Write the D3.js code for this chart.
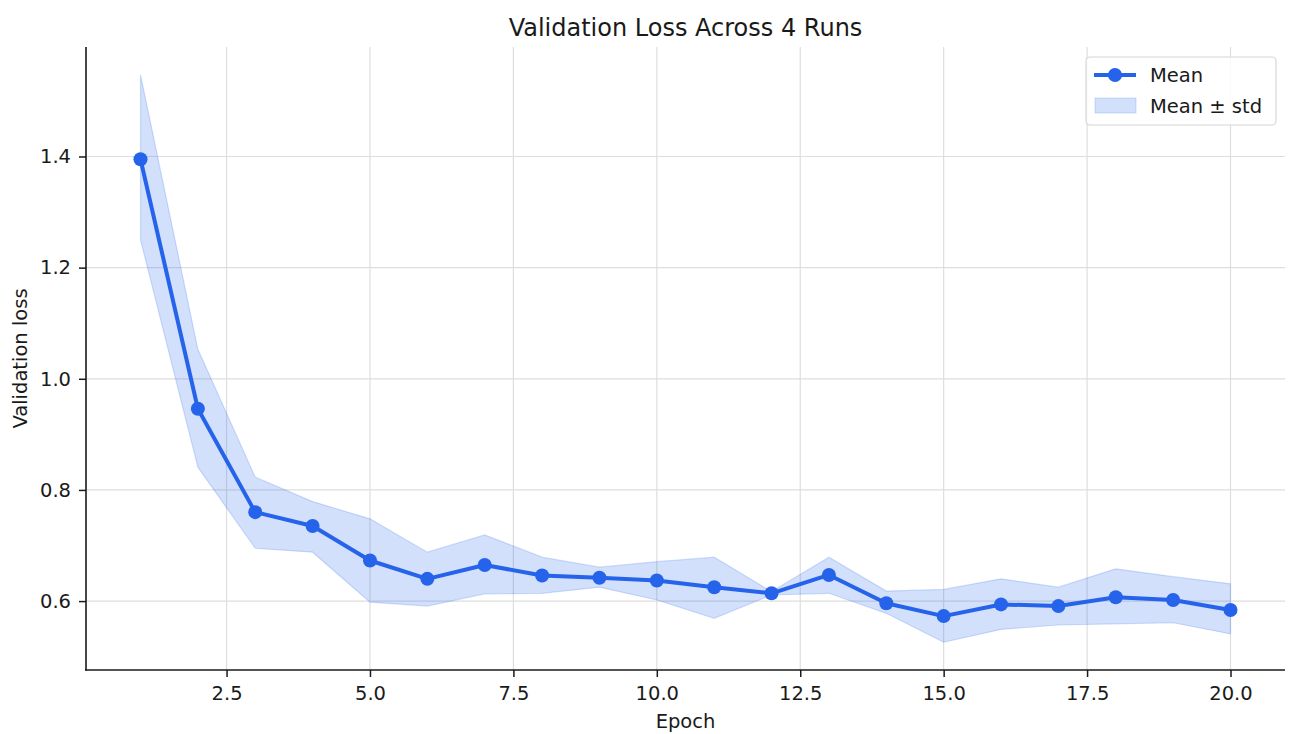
<!DOCTYPE html>
<html>
<head>
<meta charset="utf-8">
<script src="https://cdn.jsdelivr.net/npm/d3@7"></script>
<style>
  body { margin: 0; background: #fff; }
  svg { font-family: "DejaVu Sans", sans-serif; }
</style>
</head>
<body>
<svg id="chart" width="1293" height="734"></svg>
<script>
// chart data
var epochs = [1, 2, 3, 4, 5, 6, 7, 8, 9, 10, 11, 12, 13, 14, 15, 16, 17, 18, 19, 20];
var meanLoss = [1.395, 0.946, 0.760, 0.735, 0.673, 0.640, 0.665, 0.646, 0.642, 0.637,
                0.625, 0.614, 0.647, 0.596, 0.573, 0.594, 0.591, 0.607, 0.602, 0.584];
var upperLoss = [1.547, 1.053, 0.823, 0.779, 0.748, 0.688, 0.719, 0.679, 0.661, 0.671,
                 0.679, 0.617, 0.679, 0.618, 0.621, 0.640, 0.625, 0.658, 0.644, 0.631];
var lowerLoss = [1.250, 0.841, 0.695, 0.688, 0.598, 0.591, 0.613, 0.614, 0.625, 0.602,
                 0.569, 0.611, 0.614, 0.578, 0.526, 0.549, 0.557, 0.559, 0.561, 0.541];
var xTicks = [2.5, 5.0, 7.5, 10.0, 12.5, 15.0, 17.5, 20.0];
var yTicks = [0.6, 0.8, 1.0, 1.2, 1.4];

var BLUE = '#2563eb';
var INK = '#1a1a1a';
var FONT = 19.5;
var margin = {left: 86, right: 8, top: 47, bottom: 64};
var width = 1293, height = 734;

var svg = d3.select('#chart');

var x = d3.scaleLinear()
    .domain([0.05, 20.95])
    .range([margin.left, width - margin.right]);
var y = d3.scaleLinear()
    .domain([0.476, 1.597])
    .range([height - margin.bottom, margin.top]);

// grid
var grid = svg.append('g').attr('stroke', '#dedede').attr('stroke-width', 1.2);
grid.selectAll('.vgrid').data(xTicks).enter().append('line')
    .attr('x1', function(d) { return x(d); })
    .attr('x2', function(d) { return x(d); })
    .attr('y1', margin.top)
    .attr('y2', height - margin.bottom);
grid.selectAll('.hgrid').data(yTicks).enter().append('line')
    .attr('x1', margin.left)
    .attr('x2', width - margin.right)
    .attr('y1', function(d) { return y(d); })
    .attr('y2', function(d) { return y(d); });

// std band
var rows = epochs.map(function(e, i) {
  return {epoch: e, mean: meanLoss[i], lo: lowerLoss[i], hi: upperLoss[i]};
});
var band = d3.area()
    .x(function(d) { return x(d.epoch); })
    .y0(function(d) { return y(d.lo); })
    .y1(function(d) { return y(d.hi); });
svg.append('path')
    .datum(rows)
    .attr('d', band)
    .attr('fill', BLUE)
    .attr('fill-opacity', 0.2)
    .attr('stroke', BLUE)
    .attr('stroke-opacity', 0.2)
    .attr('stroke-width', 1.2);

// mean line + markers
var line = d3.line()
    .x(function(d) { return x(d.epoch); })
    .y(function(d) { return y(d.mean); });
svg.append('path')
    .datum(rows)
    .attr('d', line)
    .attr('fill', 'none')
    .attr('stroke', BLUE)
    .attr('stroke-width', 4)
    .attr('stroke-linejoin', 'round');
svg.append('g').selectAll('circle').data(rows).enter().append('circle')
    .attr('cx', function(d) { return x(d.epoch); })
    .attr('cy', function(d) { return y(d.mean); })
    .attr('r', 7)
    .attr('fill', BLUE);

// axes
var xAxis = d3.axisBottom(x).tickValues(xTicks).tickFormat(d3.format('.1f'))
    .tickSize(7).tickPadding(9);
var yAxis = d3.axisLeft(y).tickValues(yTicks).tickFormat(d3.format('.1f'))
    .tickSize(7).tickPadding(8);

var gx = svg.append('g')
    .attr('transform', 'translate(0,' + (height - margin.bottom) + ')')
    .call(xAxis);
var gy = svg.append('g')
    .attr('transform', 'translate(' + margin.left + ',0)')
    .call(yAxis);
[gx, gy].forEach(function(g) {
  g.select('.domain').remove();
  g.selectAll('.tick line').attr('stroke', INK).attr('stroke-width', 1.5);
  g.selectAll('.tick text').attr('fill', INK).attr('font-size', FONT)
      .attr('font-family', '"DejaVu Sans", sans-serif');
});
// left and bottom spines only
svg.append('line')
    .attr('x1', margin.left - 0.8).attr('x2', width - margin.right)
    .attr('y1', height - margin.bottom).attr('y2', height - margin.bottom)
    .attr('stroke', INK).attr('stroke-width', 1.6);
svg.append('line')
    .attr('x1', margin.left).attr('x2', margin.left)
    .attr('y1', margin.top).attr('y2', height - margin.bottom + 0.8)
    .attr('stroke', INK).attr('stroke-width', 1.6);

// labels
svg.append('text')
    .attr('x', (x.range()[0] + x.range()[1]) / 2)
    .attr('y', 36)
    .attr('text-anchor', 'middle')
    .attr('font-size', 24)
    .attr('fill', INK)
    .text('Validation Loss Across 4 Runs');
svg.append('text')
    .attr('x', (x.range()[0] + x.range()[1]) / 2)
    .attr('y', 728)
    .attr('text-anchor', 'middle')
    .attr('font-size', FONT)
    .attr('fill', INK)
    .text('Epoch');
svg.append('text')
    .attr('transform', 'translate(27,' + ((margin.top + height - margin.bottom) / 2) + ') rotate(-90)')
    .attr('text-anchor', 'middle')
    .attr('font-size', FONT)
    .attr('fill', INK)
    .text('Validation loss');

// legend
var lg = svg.append('g').attr('transform', 'translate(1086,57)');
lg.append('rect')
    .attr('width', 190).attr('height', 68).attr('rx', 4)
    .attr('fill', '#fff').attr('fill-opacity', 0.85)
    .attr('stroke', '#d6d6d6').attr('stroke-width', 1.2);
lg.append('line')
    .attr('x1', 8).attr('x2', 50).attr('y1', 18).attr('y2', 18)
    .attr('stroke', BLUE).attr('stroke-width', 4);
lg.append('circle').attr('cx', 29).attr('cy', 18).attr('r', 7).attr('fill', BLUE);
lg.append('rect')
    .attr('x', 9).attr('y', 41).attr('width', 41).attr('height', 15)
    .attr('fill', BLUE).attr('fill-opacity', 0.2)
    .attr('stroke', BLUE).attr('stroke-opacity', 0.2);
lg.append('text').attr('x', 64).attr('y', 25).attr('font-size', FONT)
    .attr('fill', INK).text('Mean');
lg.append('text').attr('x', 64).attr('y', 56).attr('font-size', FONT)
    .attr('fill', INK).text('Mean \u00b1 std');
</script>
</body>
</html>
